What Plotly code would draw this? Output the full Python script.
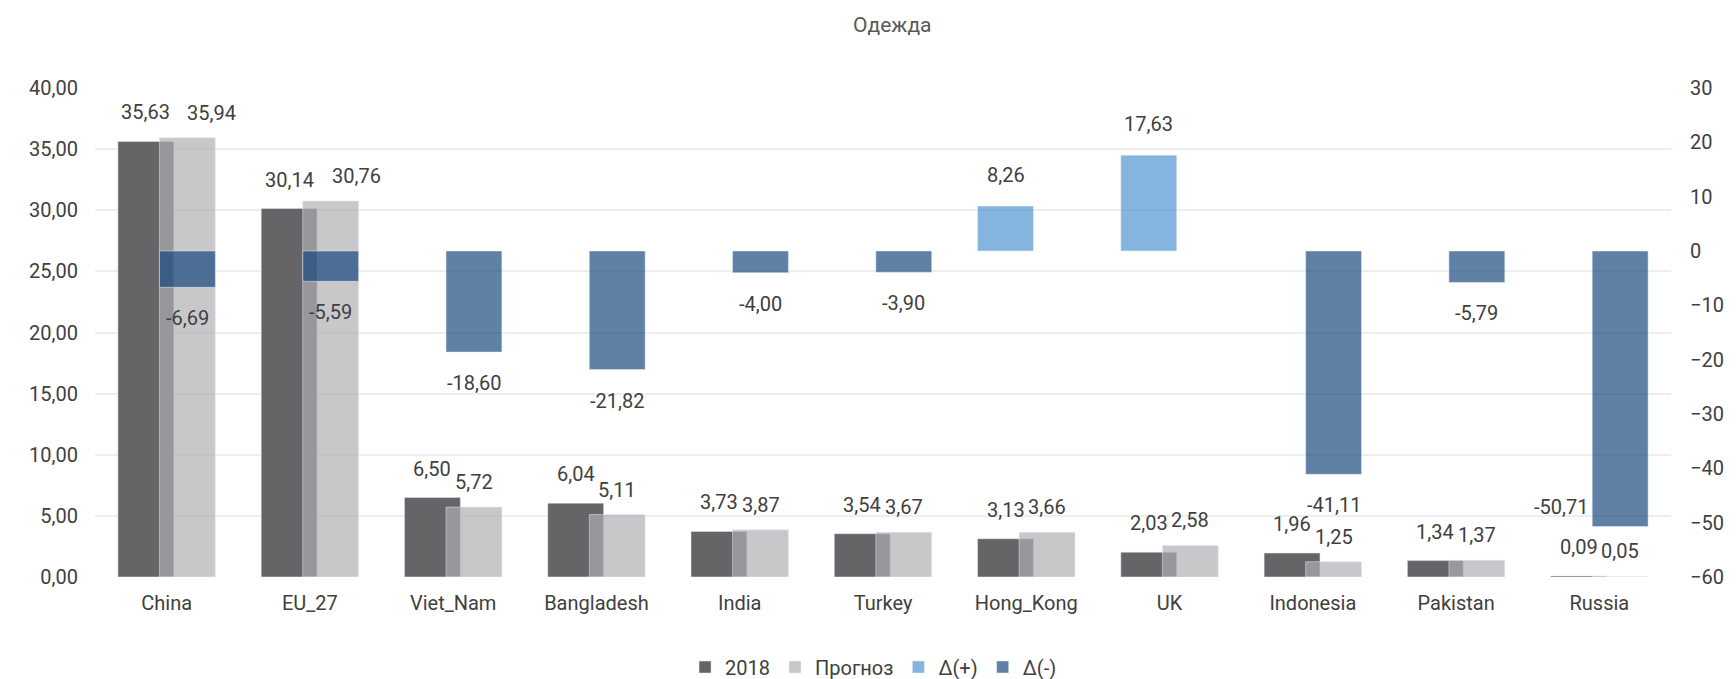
import plotly.graph_objects as go

# ---- data ----
categories = ["China", "EU_27", "Viet_Nam", "Bangladesh", "India", "Turkey",
              "Hong_Kong", "UK", "Indonesia", "Pakistan", "Russia"]
values_2018 = [35.63, 30.14, 6.50, 6.04, 3.73, 3.54, 3.13, 2.03, 1.96, 1.34, 0.09]
values_forecast = [35.94, 30.76, 5.72, 5.11, 3.87, 3.67, 3.66, 2.58, 1.25, 1.37, 0.05]
values_delta = [-6.69, -5.59, -18.60, -21.82, -4.00, -3.90, 8.26, 17.63, -41.11, -5.79, -50.71]
left_ticks = [0, 5, 10, 15, 20, 25, 30, 35, 40]
right_ticks = [30, 20, 10, 0, -10, -20, -30, -40, -50, -60]

delta_pos = [d if d > 0 else None for d in values_delta]
delta_neg = [d if d < 0 else None for d in values_delta]

# ---- styles ----
FONT = "Roboto"
C_2018 = "#656567"
C_FC = "rgba(175,175,179,0.69)"
C_POS = "rgba(70,143,205,0.66)"
C_NEG = "rgba(13,64,120,0.66)"
W = 0.39
OFF_A = -0.34   # left slot (2018, Δ+)
OFF_B = -0.05   # right slot (Прогноз, Δ-)
CA = OFF_A + W / 2
CB = OFF_B + W / 2
LBL = dict(family=FONT, size=20, color="#404040")
# pixel nudges for labels that would collide (by category index)
FC_NUDGE = {0: 24, 1: 26}

fig = go.Figure()
fig.add_bar(x=categories, y=values_2018, name="2018", marker_color=C_2018,
            offset=OFF_A, width=W, yaxis="y")
fig.add_bar(x=categories, y=values_forecast, name="Прогноз", marker_color=C_FC,
            offset=OFF_B, width=W, yaxis="y")
fig.add_bar(x=categories, y=delta_pos, name="Δ(+)", marker_color=C_POS,
            offset=OFF_A, width=W, yaxis="y2")
fig.add_bar(x=categories, y=delta_neg, name="Δ(-)", marker_color=C_NEG,
            offset=OFF_B, width=W, yaxis="y2")

def fmt(v):
    return f"{v:.2f}".replace(".", ",")

ann = []
for i, v in enumerate(values_2018):
    ann.append(dict(x=i + CA, y=v, xref="x", yref="y", text=fmt(v), showarrow=False,
                    yanchor="middle", yshift=29, font=LBL))
for i, v in enumerate(values_forecast):
    ann.append(dict(x=i + CB, y=v, xref="x", yref="y", text=fmt(v), showarrow=False,
                    yanchor="middle", yshift=25, xshift=FC_NUDGE.get(i, 0), font=LBL))
for i, v in enumerate(delta_pos):
    if v is not None:
        ann.append(dict(x=i + CA, y=v, xref="x", yref="y2", text=fmt(v), showarrow=False,
                        yanchor="middle", yshift=31, font=LBL))
for i, v in enumerate(delta_neg):
    if v is None:
        continue
    if i == len(delta_neg) - 1:
        ann.append(dict(x=i + OFF_B, y=v, xref="x", yref="y2", text=fmt(v), showarrow=False,
                        xanchor="right", yanchor="middle", yshift=20, xshift=-2, font=LBL))
    else:
        ann.append(dict(x=i + CB, y=v, xref="x", yref="y2", text=fmt(v), showarrow=False,
                        yanchor="middle", yshift=-31, font=LBL))

fig.update_layout(
    width=1736, height=679,
    margin=dict(l=95, r=57, t=88, b=102),
    paper_bgcolor="white", plot_bgcolor="white",
    barmode="overlay",
    separators=", ",
    font=dict(family=FONT, size=20, color="#595959"),
    title=dict(text="Одежда", x=0.514, xanchor="center", y=1 - 25 / 679, yref="container",
               yanchor="middle", font=dict(family=FONT, size=21, color="#595959")),
    xaxis=dict(type="category", range=[-0.5, 10.5], showgrid=False, zeroline=False,
               showline=False, ticks="", ticklabelstandoff=12,
               tickfont=dict(family=FONT, size=20, color="#404040")),
    yaxis=dict(range=[0, 40], tickvals=left_ticks, tickformat=".2f", showgrid=True,
               gridcolor="#eeeeee", gridwidth=2, zeroline=False, showline=False,
               ticks="", ticklabelstandoff=16,
               tickfont=dict(family=FONT, size=20, color="#404040")),
    yaxis2=dict(range=[-60, 30], tickvals=right_ticks, overlaying="y", side="right",
                showgrid=False, zeroline=False, showline=False, ticks="",
                ticklabelstandoff=18,
                tickfont=dict(family=FONT, size=20, color="#404040")),
    legend=dict(orientation="h", x=0.494, xanchor="center", y=1 - 667 / 679,
                yref="container", yanchor="middle",
                font=dict(family=FONT, size=20, color="#404040"),
                itemwidth=30, tracegroupgap=0),
    annotations=ann,
)

fig.write_html("out.html", config={"displayModeBar": False},
               post_script="document.body.style.margin='0';document.body.style.overflow='hidden';")
